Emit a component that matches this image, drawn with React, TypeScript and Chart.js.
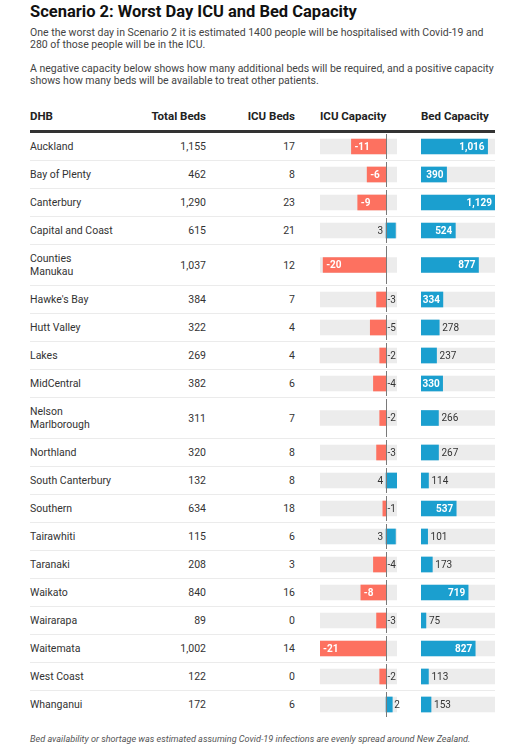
import React, { useEffect, useRef } from "react";
import { Chart, registerables } from "chart.js";

Chart.register(...registerables);

const dhbNames = [
  "Auckland", "Bay of Plenty", "Canterbury", "Capital and Coast", "Counties Manukau",
  "Hawke's Bay", "Hutt Valley", "Lakes", "MidCentral", "Nelson Marlborough",
  "Northland", "South Canterbury", "Southern", "Tairawhiti", "Taranaki",
  "Waikato", "Wairarapa", "Waitemata", "West Coast", "Whanganui",
];
const totalBeds = [1155, 462, 1290, 615, 1037, 384, 322, 269, 382, 311, 320, 132, 634, 115, 208, 840, 89, 1002, 122, 172];
const icuBeds = [17, 8, 23, 21, 12, 7, 4, 4, 6, 7, 8, 8, 18, 6, 3, 16, 0, 14, 0, 6];
const icuCapacity = [-11, -6, -9, 3, -20, -3, -5, -2, -4, -2, -3, 4, -1, 3, -4, -8, -3, -21, -2, 2];
const bedCapacity = [1016, 390, 1129, 524, 877, 334, 278, 237, 330, 266, 267, 114, 537, 101, 173, 719, 75, 827, 113, 153];

const icuDomain = [-21, 3.5];
const bedDomain = [0, 1129];

const RED = "#fd7160";
const BLUE = "#1b9fcf";
const TRACK = "#ececec";
const FONT = "Roboto, 'Noto Sans', sans-serif";

const fmt = (v: number) => v.toLocaleString("en-US");

const cellPlugin = {
  id: "cellLabel",
  afterDatasetsDraw(chart: any, _args: any, opts: any) {
    const ctx = chart.ctx as CanvasRenderingContext2D;
    const meta = chart.getDatasetMeta(0);
    const bar = meta.data[0];
    if (!bar) return;
    const { x, y, base } = bar.getProps(["x", "y", "base"], true);
    const v: number = chart.data.datasets[0].data[0];
    const text = fmt(v);
    const area = chart.chartArea;
    ctx.save();
    if (opts.kind === "icu") {
      const zx = Math.round(base) + 0.5;
      ctx.strokeStyle = "#7a7a7a";
      ctx.lineWidth = 1;
      ctx.beginPath();
      ctx.moveTo(zx, 1);
      ctx.lineTo(zx, chart.height - 1);
      ctx.stroke();
    }
    ctx.textBaseline = "middle";
    const bold = `bold 10px ${FONT}`;
    const reg = `10px ${FONT}`;
    ctx.font = bold;
    const tw = ctx.measureText(text).width;
    if (opts.kind === "icu") {
      if (v < 0) {
        const w = base - x;
        if (w >= tw + 8) {
          ctx.font = bold; ctx.fillStyle = "#fff"; ctx.textAlign = "left";
          ctx.fillText(text, x + 3, y + 0.5);
        } else {
          ctx.font = reg; ctx.fillStyle = "#333"; ctx.textAlign = "left";
          ctx.fillText(text, base + 1.5, y + 0.5);
        }
      } else {
        ctx.font = reg;
        const tw2 = ctx.measureText(text).width;
        ctx.fillStyle = "#333";
        if (x + 2 + tw2 <= area.right + 4) {
          ctx.textAlign = "left";
          ctx.fillText(text, x + 2, y + 0.5);
        } else {
          ctx.textAlign = "right";
          ctx.fillText(text, base - 3, y + 0.5);
        }
      }
    } else {
      const w = x - base;
      if (w >= tw + 4) {
        ctx.font = bold; ctx.fillStyle = "#fff"; ctx.textAlign = "right";
        ctx.fillText(text, x - 3, y + 0.5);
      } else {
        ctx.font = reg; ctx.fillStyle = "#333"; ctx.textAlign = "left";
        ctx.fillText(text, x + 3, y + 0.5);
      }
    }
    ctx.restore();
  },
};

function BarCell({ value, kind }: { value: number; kind: "icu" | "bed" }) {
  const ref = useRef<HTMLCanvasElement>(null);
  useEffect(() => {
    if (!ref.current) return;
    const dom = kind === "icu" ? icuDomain : bedDomain;
    const chart = new Chart(ref.current, {
      type: "bar",
      data: {
        labels: [""],
        datasets: [
          {
            data: [value],
            backgroundColor: value < 0 ? RED : BLUE,
            barThickness: 15,
            grouped: false,
            order: 0,
          } as any,
          {
            data: [[dom[0], dom[1]]],
            backgroundColor: TRACK,
            barThickness: 15,
            grouped: false,
            order: 1,
          } as any,
        ],
      },
      options: {
        indexAxis: "y",
        animation: false,
        responsive: true,
        maintainAspectRatio: false,
        devicePixelRatio: 1,
        events: [],
        layout: {
          padding: kind === "icu" ? { left: 2, right: 13, top: 0, bottom: 0 } : 0,
        },
        scales: {
          x: { type: "linear", min: dom[0], max: dom[1], display: false },
          y: { type: "category", display: false },
        },
        plugins: {
          legend: { display: false },
          tooltip: { enabled: false },
          cellLabel: { kind },
        } as any,
      },
      plugins: [cellPlugin],
    });
    return () => chart.destroy();
  }, [value, kind]);
  return (
    <div style={{ position: "absolute", inset: 0 }}>
      <canvas ref={ref} />
    </div>
  );
}

const cellText: React.CSSProperties = {
  fontSize: 10.5,
  lineHeight: "13px",
  color: "#333",
};

export default function App() {
  return (
    <div style={{ fontFamily: FONT, paddingLeft: 30, width: 465, paddingTop: 2 }}>
      <style>{`body{margin:0;}`}</style>
      <div style={{ fontSize: 16.5, fontWeight: 700, lineHeight: "20px", color: "#111" }}>
        Scenario 2: Worst Day ICU and Bed Capacity
      </div>
      <div style={{ fontSize: 10.5, lineHeight: "12px", color: "#444", marginTop: 5 }}>
        One the worst day in Scenario 2 it is estimated 1400 people will be hospitalised with Covid-19 and 280 of those people will be in the ICU.
      </div>
      <div style={{ fontSize: 10.5, lineHeight: "12px", color: "#444", marginTop: 12 }}>
        A negative capacity below shows how many additional beds will be required, and a positive capacity shows how many beds will be available to treat other patients.
      </div>
      <div
        style={{
          display: "flex",
          marginTop: 22,
          paddingBottom: 6,
          borderBottom: "3px solid #333",
          fontSize: 11.5,
          lineHeight: "15px",
          fontWeight: 700,
          color: "#222",
        }}
      >
        <div style={{ width: 86 }}>DHB</div>
        <div style={{ width: 90, textAlign: "right" }}>Total Beds</div>
        <div style={{ width: 89, textAlign: "right" }}>ICU Beds</div>
        <div style={{ width: 92, marginLeft: 23, paddingLeft: 2, boxSizing: "border-box" }}>ICU Capacity</div>
        <div style={{ width: 74, marginLeft: 11 }}>Bed Capacity</div>
      </div>
      {dhbNames.map((name, i) => (
        <div
          key={name}
          style={{
            display: "flex",
            borderBottom: i < dhbNames.length - 1 ? "1px solid #ebebeb" : "none",
          }}
        >
          <div style={{ ...cellText, width: 86, padding: "7px 0" }}>{name}</div>
          <div style={{ ...cellText, width: 90, padding: "7px 0", display: "flex", alignItems: "center", justifyContent: "flex-end" }}>
            {fmt(totalBeds[i])}
          </div>
          <div style={{ ...cellText, width: 89, padding: "7px 0", display: "flex", alignItems: "center", justifyContent: "flex-end" }}>
            {fmt(icuBeds[i])}
          </div>
          <div style={{ position: "relative", width: 92, marginLeft: 23 }}>
            <BarCell value={icuCapacity[i]} kind="icu" />
          </div>
          <div style={{ position: "relative", width: 74, marginLeft: 11 }}>
            <BarCell value={bedCapacity[i]} kind="bed" />
          </div>
        </div>
      ))}
      <div style={{ fontSize: 9.1, lineHeight: "12px", fontStyle: "italic", color: "#555", marginTop: 15 }}>
        Bed availability or shortage was estimated assuming Covid-19 infections are evenly spread around New Zealand.
      </div>
    </div>
  );
}
